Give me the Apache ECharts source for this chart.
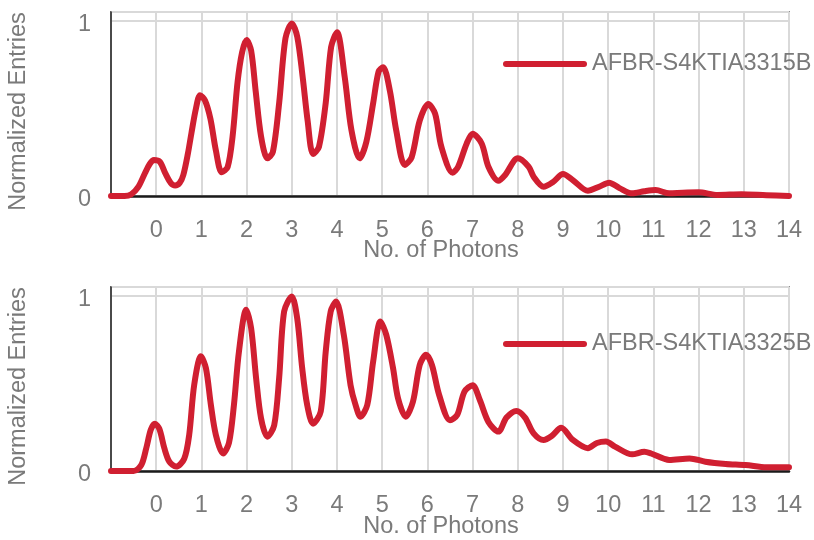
<!DOCTYPE html>
<html>
<head>
<meta charset="utf-8">
<script src="https://cdn.jsdelivr.net/npm/echarts@6/dist/echarts.min.js"></script>
<style>
  html, body { margin: 0; padding: 0; background: #ffffff; }
  #chart { width: 814px; height: 540px; }
</style>
</head>
<body>
<div id="chart"></div>
<script>
// ---- data ----
const seriesNames = ['AFBR-S4KTIA3315B', 'AFBR-S4KTIA3325B'];
const xTitle = 'No. of Photons';
const yTitle = 'Normalized Entries';
const yTickLabels = [0, 1];

const xTop = [-1.0, -0.7, -0.55, -0.4, -0.25, -0.15, -0.05, 0.08, 0.2, 0.32, 0.42, 0.52, 0.6, 0.7, 0.78, 0.88, 0.97,
  1.08, 1.2, 1.32, 1.45, 1.58, 1.69, 1.8, 1.9, 2.0, 2.1, 2.2, 2.32, 2.46, 2.58, 2.72, 2.86, 3.0, 3.12, 3.24, 3.35,
  3.47, 3.6, 3.75, 3.87, 4.0, 4.17, 4.32, 4.5, 4.65, 4.8, 4.92, 5.02, 5.17, 5.31, 5.5, 5.65, 5.83, 6.02, 6.17, 6.31,
  6.56, 6.68, 6.87, 7.0, 7.2, 7.35, 7.57, 7.72, 8.0, 8.24, 8.35, 8.57, 8.78, 9.0, 9.22, 9.55, 9.8, 10.02, 10.25,
  10.53, 10.8, 11.05, 11.35, 11.65, 12.0, 12.42, 12.95, 13.5, 14.0];
const yTop = [0, 0, 0.01, 0.05, 0.13, 0.18, 0.205, 0.195, 0.13, 0.075, 0.06, 0.075, 0.12, 0.24, 0.36, 0.5, 0.575,
  0.545, 0.44, 0.26, 0.135, 0.165, 0.34, 0.65, 0.82, 0.89, 0.83, 0.6, 0.34, 0.215, 0.25, 0.53, 0.9, 0.985, 0.91, 0.68, 0.43,
  0.24, 0.28, 0.53, 0.85, 0.935, 0.68, 0.375, 0.215, 0.31, 0.53, 0.71, 0.735, 0.6, 0.375, 0.177, 0.22, 0.43, 0.525, 0.47, 0.28,
  0.133, 0.167, 0.3, 0.355, 0.3, 0.167, 0.087, 0.12, 0.215, 0.167, 0.11, 0.053, 0.08, 0.125, 0.09, 0.03, 0.053, 0.076, 0.045,
  0.015, 0.027, 0.034, 0.015, 0.019, 0.021, 0.006, 0.01, 0.004, 0.0];

const xBottom = [-1.0, -0.5, -0.33, -0.22, -0.12, -0.03, 0.07, 0.18, 0.29, 0.44, 0.62, 0.73, 0.84, 0.99, 1.1, 1.21,
  1.32, 1.48, 1.61, 1.72, 1.83, 1.99, 2.1, 2.21, 2.32, 2.46, 2.61, 2.72, 2.83, 3.0, 3.12, 3.23, 3.34, 3.47, 3.64, 3.75,
  3.86, 3.98, 4.15, 4.3, 4.41, 4.52, 4.67, 4.8, 4.96, 5.09, 5.24, 5.35, 5.52, 5.68, 5.83, 5.97, 6.1, 6.26, 6.5, 6.66,
  6.82, 7.0, 7.16, 7.35, 7.57, 7.75, 7.97, 8.16, 8.35, 8.57, 8.75, 8.96, 9.22, 9.55, 9.75, 9.95, 10.15, 10.53, 10.8,
  10.95, 11.35, 11.8, 12.15, 12.6, 13.04, 13.5, 14.0];
const yBottom = [0, 0, 0.034, 0.13, 0.235, 0.27, 0.24, 0.13, 0.053, 0.025, 0.07, 0.206, 0.49, 0.655, 0.587, 0.377,
  0.206, 0.10, 0.16, 0.377, 0.68, 0.92, 0.815, 0.53, 0.3, 0.196, 0.26, 0.53, 0.91, 0.996, 0.87, 0.587, 0.377, 0.27, 0.34, 0.68,
  0.91, 0.967, 0.777, 0.49, 0.377, 0.31, 0.377, 0.625, 0.853, 0.777, 0.587, 0.415, 0.31, 0.395, 0.605, 0.663, 0.605, 0.434, 0.29, 0.32,
  0.453, 0.49, 0.405, 0.28, 0.225, 0.305, 0.343, 0.305, 0.215, 0.177, 0.2, 0.247, 0.177, 0.13, 0.16, 0.168, 0.139, 0.095, 0.11,
  0.10, 0.063, 0.072, 0.053, 0.04, 0.034, 0.021, 0.021];

// ---- styling ----
const FONT = '"Liberation Sans", Arial, sans-serif';
const FS = 23.5;
const TEXT_COLOR = '#7a7a7a';
const LINE_COLOR = '#d01f31';
const GRID_COLOR = '#d9d9d9';

const zip = (xs, ys) => xs.map((x, i) => [x, ys[i]]);

const panels = [
  { top: 12, x: xTop, y: yTop, legendTop: 52, titleY: 251, yTitleY: 111.5 },
  { top: 287, x: xBottom, y: yBottom, legendTop: 332, titleY: 527, yTitleY: 386.5 }
];

// rounded bar used as legend icon (a thick line with round caps)
const LEGEND_ICON = 'path://M3,0 H81 A3,3 0 0 1 81,6 H3 A3,3 0 0 1 3,0 Z';

const option = {
  animation: false,
  backgroundColor: '#ffffff',
  grid: panels.map(p => ({
    left: 111, top: p.top, width: 678, height: 184,
    show: true, borderColor: '#3a3a3a', borderWidth: 1.5, backgroundColor: '#ffffff'
  })),
  xAxis: panels.map((p, i) => ({
    type: 'value', gridIndex: i, min: -1, max: 14, interval: 1,
    axisLine: { show: true, onZero: false, lineStyle: { color: '#1a1a1a', width: 2.5 } },
    axisTick: { show: false },
    axisLabel: {
      margin: 23, color: TEXT_COLOR, fontSize: FS, fontFamily: FONT,
      formatter: v => (v < 0 ? '' : String(v))
    },
    splitLine: { show: true, lineStyle: { color: GRID_COLOR, width: 2 } }
  })),
  yAxis: panels.map((p, i) => ({
    type: 'value', gridIndex: i, min: 0, max: 1.05, interval: 1,
    axisLine: { show: true, onZero: false, lineStyle: { color: '#1a1a1a', width: 1.5 } },
    axisTick: { show: false },
    axisLabel: {
      margin: 20, color: TEXT_COLOR, fontSize: FS, fontFamily: FONT,
      verticalAlign: 'top', lineHeight: 8,
      formatter: v => (yTickLabels.indexOf(v) >= 0 ? String(v) : '')
    },
    splitLine: { show: true, lineStyle: { color: GRID_COLOR, width: 2 } }
  })),
  legend: panels.map((p, i) => ({
    data: [{ name: seriesNames[i], icon: LEGEND_ICON, itemStyle: { color: LINE_COLOR } }],
    left: 503, top: p.legendTop, padding: 0,
    itemWidth: 84, itemHeight: 6,
    textStyle: { color: TEXT_COLOR, fontSize: FS, fontFamily: FONT }
  })),
  series: panels.map((p, i) => ({
    name: seriesNames[i],
    type: 'line',
    xAxisIndex: i, yAxisIndex: i,
    data: zip(p.x, p.y),
    smooth: 0.3,
    symbol: 'none',
    clip: false,
    z: 5,
    lineStyle: { color: LINE_COLOR, width: 6, cap: 'round', join: 'round' },
    itemStyle: { color: LINE_COLOR }
  })),
  graphic: panels.flatMap(p => ([
    {
      type: 'text', x: 441, y: p.titleY, silent: true,
      style: { text: xTitle, fill: TEXT_COLOR, font: FS + 'px ' + FONT, align: 'center', verticalAlign: 'middle' }
    },
    {
      type: 'text', x: 19, y: p.yTitleY, rotation: Math.PI / 2, silent: true,
      style: { text: yTitle, fill: TEXT_COLOR, font: FS + 'px ' + FONT, align: 'center', verticalAlign: 'middle' }
    }
  ]))
};

const chart = echarts.init(document.getElementById('chart'), null, { renderer: 'canvas' });
chart.setOption(option);
</script>
</body>
</html>
